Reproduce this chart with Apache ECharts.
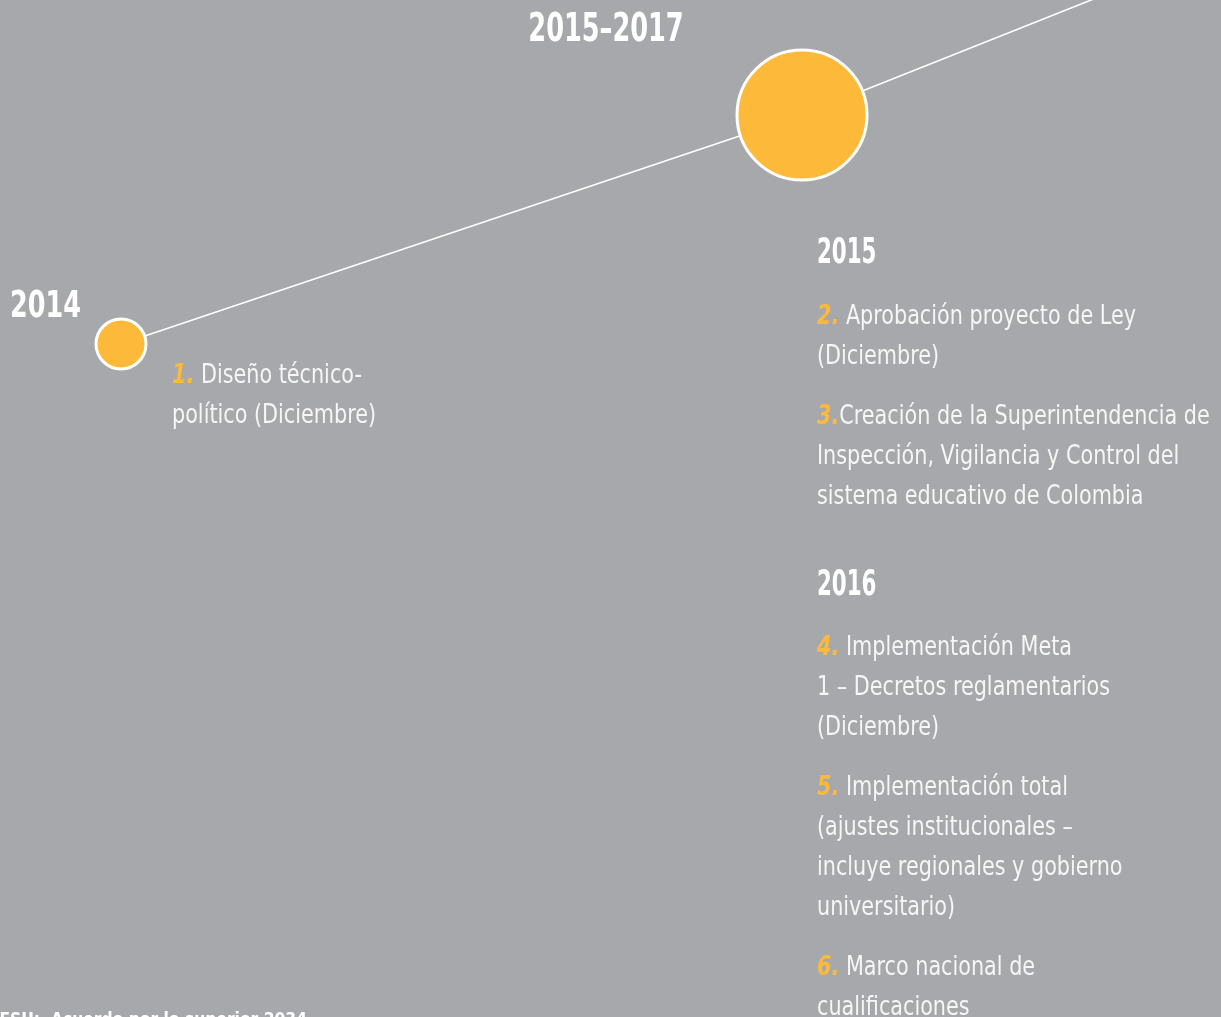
<!DOCTYPE html>
<html>
<head>
<meta charset="utf-8">
<script src="https://cdn.jsdelivr.net/npm/echarts@6/dist/echarts.min.js"></script>
<style>
html,body{margin:0;padding:0;background:#a7a8ab;}
#c{width:1221px;height:1017px;}
</style>
</head>
<body>
<div id="c"></div>
<script>
// Timeline milestones (layout units on a hidden 1221 x 1017 plane)
const milestones = ['2014', '2015–2017', 'next'];
const milestoneX = [121, 802, 1330];
const milestoneY = [344, 115, -95];
const milestoneSize = [50, 130, 0];

const yearHeads = ['2014', '2015–2017', '2015', '2016'];
const items = [
  {n: '1.', t: 'Diseño técnico-\npolítico (Diciembre)'},
  {n: '2.', t: 'Aprobación proyecto de Ley\n(Diciembre)'},
  {n: '3.', t: 'Creación de la Superintendencia de\nInspección, Vigilancia y Control del\nsistema educativo de Colombia'},
  {n: '4.', t: 'Implementación Meta\n1 – Decretos reglamentarios\n(Diciembre)'},
  {n: '5.', t: 'Implementación total\n(ajustes institucionales –\nincluye regionales y gobierno\nuniversitario)'},
  {n: '6.', t: 'Marco nacional de\ncualificaciones'}
];
const sourceText = 'CESU:  Acuerdo por lo superior 2034';

const FONT = "'DejaVu Sans Condensed', 'DejaVu Sans', sans-serif";
const ORANGE = '#fdb93a';
const WHITE = '#f6f6f6';

const chart = echarts.init(document.getElementById('c'), null, {renderer: 'canvas'});

function itemText(i, x, yCenter, sep) {
  const it = items[i];
  const lines = it.t.split('\n');
  const first = '{n|' + it.n + '}' + (sep ? '{t| }' : '') + '{t|' + lines[0] + '}';
  const rest = lines.slice(1).map(l => '{t|' + l + '}');
  return {
    type: 'text', x: x, y: yCenter - 17, z: 10, scaleX: 0.887, scaleY: 1,
    style: {
      text: [first].concat(rest).join('\n'),
      font: '26px ' + FONT,
      fill: WHITE,
      textVerticalAlign: 'top',
      lineHeight: 40,
      rich: {
        n: {fill: ORANGE, fontFamily: FONT, fontSize: 26, fontWeight: 'bold', fontStyle: 'italic', lineHeight: 40},
        t: {fill: WHITE, fontFamily: FONT, fontSize: 26, lineHeight: 40}
      }
    }
  };
}

function head(txt, x, y, size, sx, align) {
  return {
    type: 'text', x: x, y: y, z: 10, scaleX: sx, scaleY: 1,
    style: {text: txt, fill: '#ffffff', font: 'bold ' + size + 'px ' + FONT, textAlign: align || 'left', textVerticalAlign: 'middle'}
  };
}

const option = {
  backgroundColor: '#a7a8ab',
  animation: false,
  grid: {left: 0, right: 0, top: 0, bottom: 0},
  xAxis: {type: 'value', min: 0, max: 1221, show: false},
  yAxis: {type: 'value', min: 0, max: 1017, inverse: true, show: false},
  series: [{
    type: 'line',
    data: milestoneX.map((x, i) => ({value: [x, milestoneY[i]], name: milestones[i], symbolSize: milestoneSize[i]})),
    symbol: 'circle',
    lineStyle: {color: '#ffffff', width: 1.6},
    itemStyle: {color: ORANGE, borderColor: '#ffffff', borderWidth: 3, opacity: 1},
    clip: true,
    z: 5
  }],
  graphic: [
    head(yearHeads[1], 606, 31, 39, 0.73, 'center'),
    head(yearHeads[0], 10, 307, 38, 0.745),
    head(yearHeads[2], 817, 254, 36, 0.66),
    head(yearHeads[3], 817, 586, 36, 0.66),
    itemText(0, 172, 373, true),
    itemText(1, 817, 314, true),
    itemText(2, 817, 414, false),
    itemText(3, 817, 645, true),
    itemText(4, 817, 785, true),
    itemText(5, 817, 965, true),
    {
      type: 'text', x: -12, y: 1011, z: 10, scaleX: 0.96, scaleY: 1,
      style: {text: sourceText, fill: '#ffffff', font: 'bold 18px ' + FONT, textVerticalAlign: 'top'}
    }
  ]
};
chart.setOption(option);
</script>
</body>
</html>
